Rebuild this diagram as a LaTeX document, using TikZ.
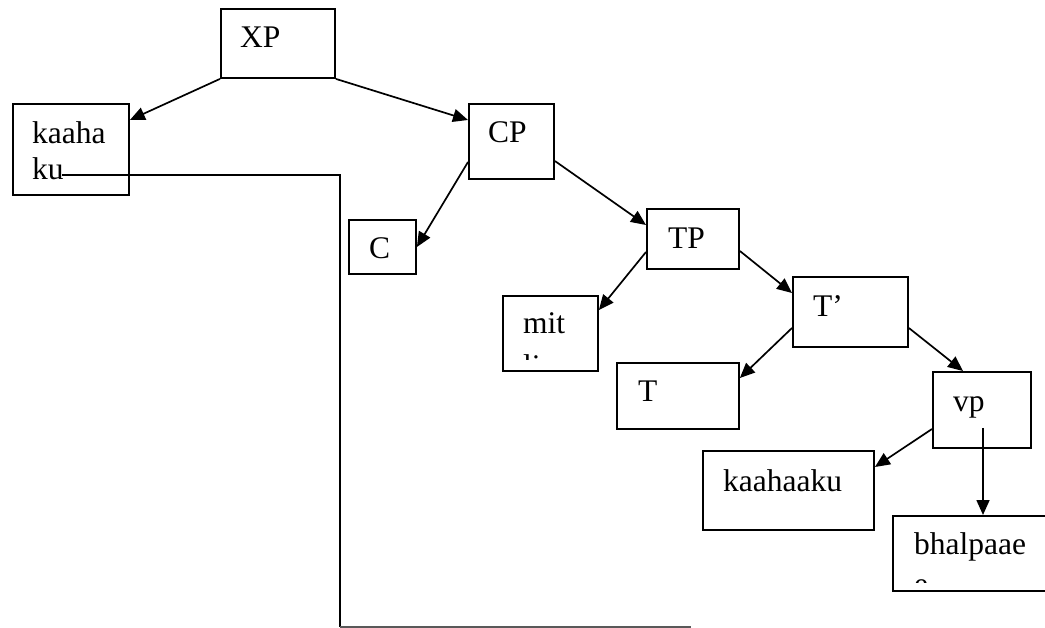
\documentclass[tikz,border=0pt]{standalone}
\usepackage{fontspec}
\setmainfont{Liberation Serif}
\usetikzlibrary{arrows.meta,calc}
\begin{document}
\begin{tikzpicture}[x=1pt,y=-1pt,
  box/.style={draw,line width=1.9pt,rectangle,inner sep=0pt,anchor=north west},
  lbl/.style={anchor=base west,inner sep=0pt,font=\fontsize{31.5}{31.5}\selectfont},
  arr/.style={line width=1.7pt,-{Triangle[length=15pt,width=13pt]}},
  wire/.style={line width=1.9pt}]
\clip (0,0) rectangle (1045,628);
% boxes
\node[box,minimum width=114pt,minimum height=69pt] (xp) at (220,8) {};
\node[box,minimum width=116pt,minimum height=91pt] (kh) at (12,103) {};
\node[box,minimum width=85pt,minimum height=75pt] (cp) at (468,103) {};
\node[box,minimum width=67pt,minimum height=54pt] (c) at (348,219) {};
\node[box,minimum width=92pt,minimum height=60pt] (tp) at (646,208) {};
\node[box,minimum width=95pt,minimum height=75pt] (mit) at (502,295) {};
\node[box,minimum width=115pt,minimum height=70pt] (tbar) at (792,276) {};
\node[box,minimum width=122pt,minimum height=66pt] (t) at (616,362) {};
\node[box,minimum width=98pt,minimum height=76pt] (vp) at (932,371) {};
\node[box,minimum width=171pt,minimum height=79pt] (kk) at (702,450) {};
\node[box,minimum width=170pt,minimum height=75pt] (bh) at (892,515) {};
% labels
\node[lbl] (xpt) at (240,48) {XP};
\node[lbl] (kht1) at (32,144) {kaaha};
\node[lbl] (kht2) at (32,180) {ku};
\node[lbl] (cpt) at (488,143) {CP};
\node[lbl] (ct) at (369,259) {C};
\node[lbl] (tpt) at (668,249) {TP};
\node[lbl] (mitt) at (523,334) {mit};
\begin{scope}
  \clip (502,295) rectangle (597,360);
  \node[lbl] (mitt2) at (523,377) {li};
\end{scope}
\node[lbl] (tbart) at (813,317) {T’};
\node[lbl] (tt) at (638,402) {T};
\node[lbl] (vpt) at (953,412) {vp};
\node[lbl] (kkt) at (723,491) {kaahaaku};
\node[lbl] (bht) at (914,554) {bhalpaae};
\begin{scope}
  \clip (892,515) rectangle (1045,582);
  \node[lbl] (bht2) at (914,594) {e};
\end{scope}
% connectors
\draw[arr] (xp.south west) -- ($(kh.north east)+(0,17)$);
\draw[arr] (xp.south east) -- ($(cp.north west)+(0,17)$);
\draw[arr] ($(cp.north west)+(0,59)$) -- ($(c.north east)+(0,28)$);
\draw[arr] ($(cp.north east)+(0,58)$) -- ($(tp.north west)+(0,17)$);
\draw[arr] ($(tp.north west)+(0,44)$) -- ($(mit.north east)+(0,15)$);
\draw[arr] ($(tp.north east)+(0,43)$) -- ($(tbar.north west)+(0,17)$);
\draw[arr] ($(tbar.north west)+(0,52)$) -- ($(t.north east)+(0,16)$);
\draw[arr] ($(tbar.north east)+(0,52)$) -- ($(vp.north west)+(31,0)$);
\draw[arr] ($(vp.north west)+(0,58)$) -- ($(kk.north east)+(0,17)$);
\draw[arr] ($(vp.north west)+(51,57)$) coordinate (vps) -- (vps |- bh.north);
% long line from kaahaku
\coordinate (c1) at (340,175);
\coordinate (c2) at (340,627);
\coordinate (lend) at (691,627);
\draw[wire] ($(kh.north west)+(50,72)$) -- (c1) -- (c2);
\draw[wire,black!65] (c2) -- (lend);
\end{tikzpicture}
\end{document}
